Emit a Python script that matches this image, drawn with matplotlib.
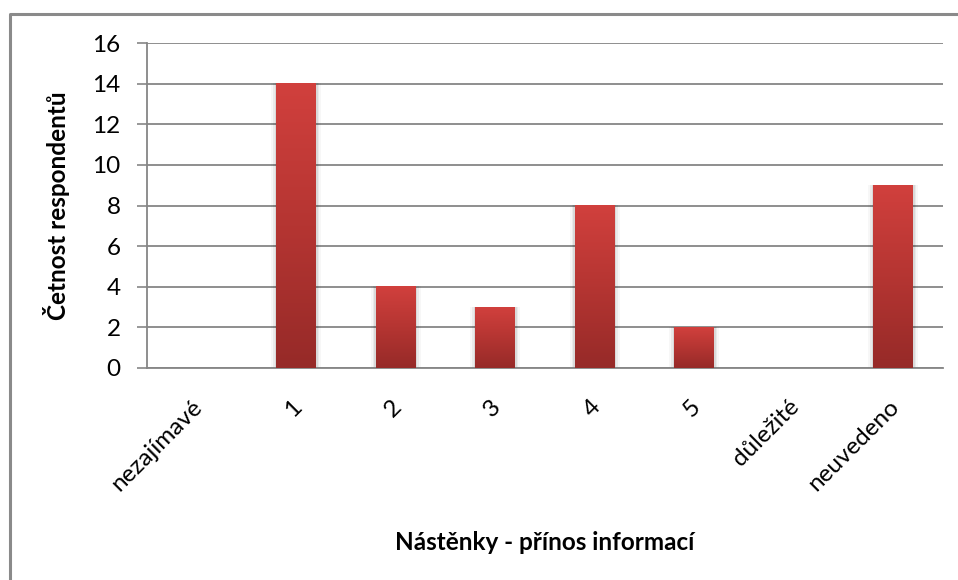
import matplotlib
matplotlib.use("Agg")
import matplotlib.pyplot as plt
import numpy as np
from matplotlib.colors import LinearSegmentedColormap
from matplotlib.lines import Line2D
from matplotlib.patches import Rectangle
from matplotlib.transforms import ScaledTranslation

categories = ["nezajímavé", "1", "2", "3", "4", "5", "důležité", "neuvedeno"]
counts = [0, 14, 4, 3, 8, 2, 0, 9]
y_ticks = [0, 2, 4, 6, 8, 10, 12, 14, 16]

plt.rcParams["font.family"] = ["Lato", "DejaVu Sans"]

fig = plt.figure(figsize=(9.58, 5.80), dpi=100)
ax = fig.add_axes([147 / 958, 1 - 368 / 580, (943 - 147) / 958, (368 - 43) / 580])

grid_col = "#868686"
bar_w = 0.4
x = np.arange(len(categories))
fs = 17.5

# invisible bars give the positions; a vertical gradient fills each one
bars = ax.bar(x, counts, width=bar_w, color="none", zorder=3)
cmap = LinearSegmentedColormap.from_list("redgrad", ["#962a28", "#b53532", "#d1403d"])
grad = np.linspace(0, 1, 256).reshape(-1, 1)
for b in bars:
    h = b.get_height()
    if h <= 0:
        continue
    x0 = b.get_x()
    x1 = x0 + b.get_width()
    # soft shadow around the bar
    for k, a in zip([0.05, 0.033, 0.016], [0.03, 0.05, 0.07]):
        ax.add_patch(Rectangle((x0 - k, 0), (x1 - x0) + 2 * k, h + k * 0.4,
                               facecolor="black", alpha=a, lw=0, zorder=2.5))
    ax.imshow(grad, extent=[x0, x1, 0, h], origin="lower", aspect="auto",
              cmap=cmap, zorder=3, interpolation="bicubic")

ax.set_xlim(-0.5, len(categories) - 0.5)
ax.set_ylim(0, 16)
ax.set_yticks(y_ticks)
ax.set_xticks(x)
ax.set_xticklabels(categories, rotation=45, ha="right", rotation_mode="anchor",
                   fontsize=fs)
ax.tick_params(axis="x", length=0, pad=20)
ax.tick_params(axis="y", length=7, width=1.2, color=grid_col, labelsize=fs, pad=12)
shift = ScaledTranslation(-5 / 100, 0, fig.dpi_scale_trans)
for lbl in ax.get_xticklabels():
    lbl.set_transform(lbl.get_transform() + shift)

ax.yaxis.grid(True, color=grid_col, linewidth=1.3)
ax.set_axisbelow(True)
for s in ["top", "right"]:
    ax.spines[s].set_visible(False)
ax.spines["left"].set_color(grid_col)
ax.spines["left"].set_linewidth(1.3)
ax.spines["bottom"].set_color(grid_col)
ax.spines["bottom"].set_linewidth(1.3)

ax.set_ylabel("Četnost respondentů", fontsize=fs, fontweight="bold", labelpad=16)
ax.set_xlabel("Nástěnky - přínos informací", fontsize=fs, fontweight="bold", labelpad=26)

# outer chart frame (left and top edges)
fx = 9.5 / 958
fy = 1 - 13.5 / 580
fig.add_artist(Line2D([fx, fx, 1.0], [0.0, fy, fy], transform=fig.transFigure,
                      color="#8a8a8a", linewidth=2.2))

fig.savefig("out.png", dpi=100)
